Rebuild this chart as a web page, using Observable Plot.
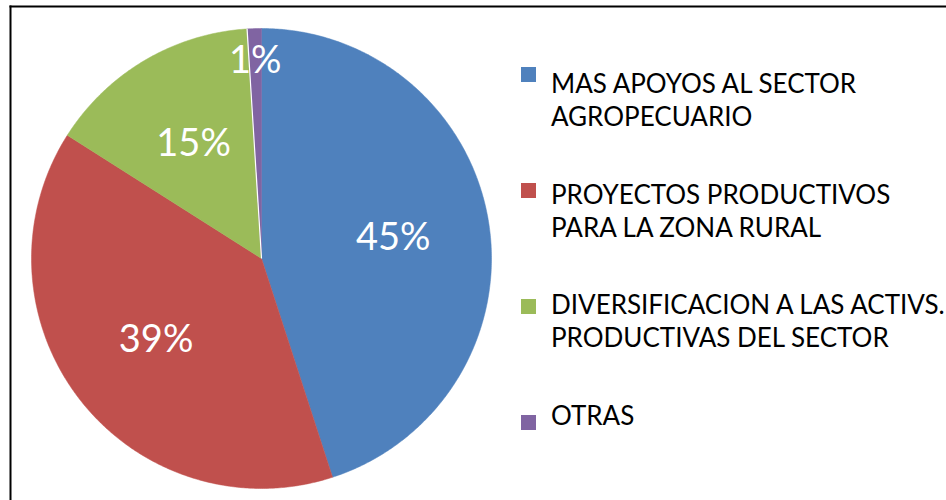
<!DOCTYPE html>
<html>
<head>
<meta charset="utf-8">
<script src="https://cdn.jsdelivr.net/npm/d3@7"></script>
<script src="https://cdn.jsdelivr.net/npm/@observablehq/plot@0.6"></script>
<style>
  html, body { margin: 0; padding: 0; background: #fff; }
  #wrap { position: relative; width: 946px; height: 500px; overflow: hidden; }
  #legend { position: absolute; left: 0; top: 0; font-family: Lato, "Open Sans", sans-serif; font-size: 26px; color: #000; }
  .sw { position: absolute; width: 15px; height: 15px; }
  .lt { position: absolute; line-height: 33px; white-space: nowrap; }
</style>
</head>
<body>
<div id="wrap"></div>
<script>
// Data
const categories = [
  "MAS APOYOS AL SECTOR AGROPECUARIO",
  "PROYECTOS PRODUCTIVOS PARA LA ZONA RURAL",
  "DIVERSIFICACION A LAS ACTIVS. PRODUCTIVAS DEL SECTOR",
  "OTRAS"
];
const legendLines = [
  ["MAS APOYOS AL SECTOR", "AGROPECUARIO"],
  ["PROYECTOS PRODUCTIVOS", "PARA LA ZONA RURAL"],
  ["DIVERSIFICACION A LAS ACTIVS.", "PRODUCTIVAS DEL SECTOR"],
  ["OTRAS"]
];
const values = [45, 39, 15, 1];
const labels = ["45%", "39%", "15%", "1%"];
const colors = ["#4F81BD", "#C0504D", "#9BBB59", "#8064A2"];

// Pie geometry (angles from top, clockwise) computed from values
const pie = d3.pie().sort(null).value(d => d.value)(
  categories.map((c, i) => ({name: c, value: values[i], label: labels[i]}))
);
const total = d3.sum(values);
const poly = [];
pie.forEach(s => {
  const n = Math.max(2, Math.ceil((s.endAngle - s.startAngle) / (Math.PI / 360)));
  poly.push({name: s.data.name, x: 0, y: 0});
  for (let k = 0; k <= n; k++) {
    const a = s.startAngle + (s.endAngle - s.startAngle) * k / n;
    poly.push({name: s.data.name, x: Math.sin(a), y: Math.cos(a)});
  }
  poly.push({name: s.data.name, x: 0, y: 0});
});
const labelPts = pie.map(s => {
  const a = (s.startAngle + s.endAngle) / 2;
  const r = s.data.value / total < 0.05 ? 0.86 : 0.58;
  return {label: s.data.label, x: r * Math.sin(a), y: r * Math.cos(a)};
});
const sep = [pie[pie.length - 1]].map(s => ({x1: 0, y1: 0, x2: Math.sin(s.startAngle), y2: Math.cos(s.startAngle)}));

const chart = Plot.plot({
  width: 946,
  height: 500,
  marginLeft: 10, marginTop: 6, marginRight: 0, marginBottom: 0,
  x: {domain: [-1, 1], range: [31, 491], axis: null},
  y: {domain: [-1, 1], range: [488, 28], axis: null},
  color: {domain: categories, range: colors},
  style: {background: "#fff"},
  marks: [
    Plot.line(poly, {x: "x", y: "y", z: "name", fill: "name", stroke: "name", strokeWidth: 0.5, curve: "linear"}),
    Plot.link(sep, {x1: "x1", y1: "y1", x2: "x2", y2: "y2", stroke: "#fff", strokeWidth: 1.2}),
    Plot.text(labelPts, {x: "x", y: "y", text: "label", fill: "#fff", fontSize: 38, fontFamily: "Lato, 'Open Sans', sans-serif"}),
    Plot.frame({anchor: "top", stroke: "#000", strokeWidth: 2}),
    Plot.frame({anchor: "left", stroke: "#000", strokeWidth: 2})
  ]
});
const wrap = document.getElementById("wrap");
wrap.appendChild(chart);

// Legend (HTML overlay)
const legend = document.createElement("div");
legend.id = "legend";
legendLines.forEach((lines, i) => {
  const sw = document.createElement("div");
  sw.className = "sw";
  sw.style.background = colors[i];
  sw.style.left = "521px";
  sw.style.top = (67 + i * 116) + "px";
  legend.appendChild(sw);
  const t = document.createElement("div");
  t.className = "lt";
  t.style.left = "551px";
  t.style.top = (67 + i * 110.7) + "px";
  t.innerHTML = lines.join("<br>");
  legend.appendChild(t);
});
wrap.appendChild(legend);
</script>
</body>
</html>
